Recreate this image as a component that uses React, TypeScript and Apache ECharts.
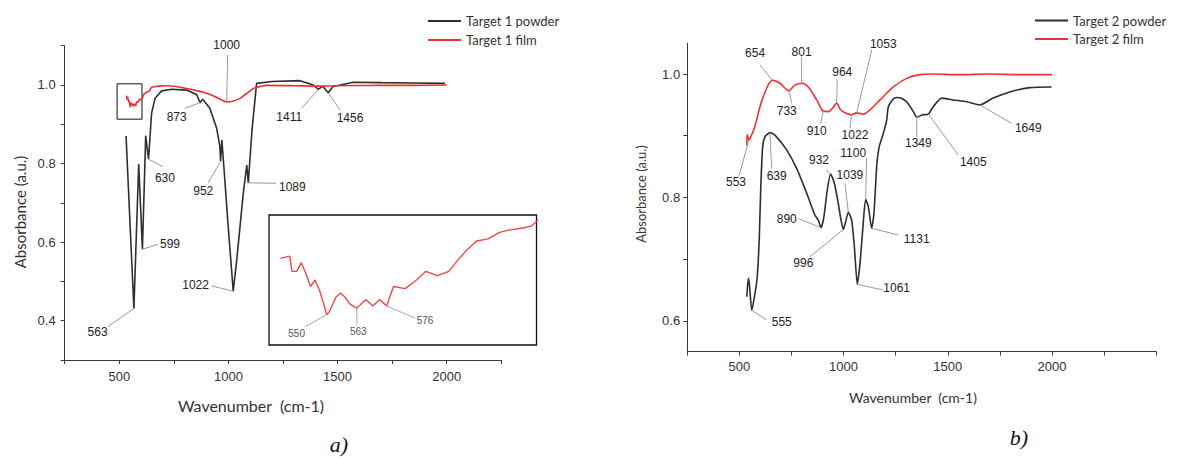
import React, { useEffect, useRef } from "react";
import * as echarts from "echarts";

// ---------------- data ----------------
// a) Target 1
const T1_POWDER_WN = [531, 567, 589, 606, 621, 634, 648, 664, 694, 740, 809, 855, 870, 882, 915, 946, 961, 964, 970, 978, 999, 1022, 1038, 1068, 1084, 1091, 1108, 1129, 1200, 1328, 1389, 1412, 1432, 1457, 1480, 1572, 1700, 1850, 1992];
const T1_POWDER_ABS = [0.870, 0.431, 0.799, 0.582, 0.871, 0.811, 0.928, 0.966, 0.985, 0.989, 0.987, 0.975, 0.955, 0.964, 0.941, 0.890, 0.843, 0.806, 0.860, 0.800, 0.639, 0.475, 0.554, 0.724, 0.796, 0.751, 0.885, 1.004, 1.009, 1.011, 1.000, 0.989, 0.997, 0.980, 0.996, 1.007, 1.006, 1.005, 1.004];
const T1_FILM_WN = [530, 534, 535, 537, 539, 541, 543, 545, 547, 549, 550, 551, 554, 556, 558, 560, 563, 567, 570, 573, 576, 579, 584, 589, 593, 598, 603, 606, 610, 615, 620, 625, 629, 635, 639, 648, 680, 717, 760, 809, 860, 900, 940, 970, 992, 1015, 1053, 1085, 1114, 1150, 1175, 1300, 1400, 1500, 1700, 1850, 2000];
const T1_FILM_ABS = [0.970, 0.971, 0.964, 0.964, 0.968, 0.963, 0.957, 0.960, 0.955, 0.948, 0.944, 0.945, 0.952, 0.954, 0.952, 0.949, 0.947, 0.951, 0.948, 0.951, 0.948, 0.957, 0.956, 0.960, 0.964, 0.962, 0.964, 0.968, 0.973, 0.978, 0.979, 0.982, 0.983, 0.984, 0.985, 0.994, 0.997, 0.998, 0.996, 0.991, 0.985, 0.979, 0.970, 0.962, 0.957, 0.958, 0.966, 0.979, 0.991, 0.997, 0.999, 0.998, 0.997, 0.998, 0.999, 0.999, 1.000];

// b) Target 2
const T2_POWDER_WN = [536, 543, 548, 560, 575, 586, 596, 603, 612, 623, 647, 671, 727, 775, 823, 863, 879, 892, 906, 922, 938, 956, 975, 988, 999, 1012, 1023, 1039, 1052, 1066, 1079, 1092, 1106, 1119, 1135, 1146, 1159, 1171, 1191, 1207, 1215, 1240, 1260, 1275, 1303, 1335, 1351, 1380, 1407, 1430, 1471, 1526, 1591, 1654, 1718, 1798, 1894, 1998];
const T2_POWDER_ABS = [0.639, 0.669, 0.660, 0.617, 0.644, 0.671, 0.736, 0.817, 0.882, 0.898, 0.905, 0.901, 0.877, 0.847, 0.807, 0.771, 0.763, 0.751, 0.769, 0.812, 0.838, 0.823, 0.790, 0.763, 0.748, 0.763, 0.776, 0.763, 0.720, 0.659, 0.693, 0.747, 0.797, 0.785, 0.750, 0.774, 0.850, 0.882, 0.904, 0.925, 0.947, 0.960, 0.962, 0.961, 0.955, 0.939, 0.930, 0.934, 0.935, 0.947, 0.961, 0.958, 0.955, 0.950, 0.961, 0.971, 0.978, 0.979];
const T2_FILM_WN = [536, 538, 546, 553, 575, 599, 631, 658, 695, 738, 767, 799, 831, 871, 903, 927, 951, 967, 986, 1015, 1039, 1063, 1095, 1127, 1175, 1239, 1303, 1367, 1430, 1550, 1700, 1850, 2000];
const T2_FILM_ABS = [0.884, 0.902, 0.893, 0.897, 0.915, 0.947, 0.977, 0.990, 0.985, 0.973, 0.982, 0.985, 0.979, 0.958, 0.940, 0.939, 0.946, 0.953, 0.942, 0.936, 0.934, 0.937, 0.935, 0.942, 0.958, 0.979, 0.993, 0.999, 1.000, 0.999, 1.000, 0.999, 0.999];

// axes
const X_TICKS_A = [250, 500, 750, 1000, 1250, 1500, 1750, 2000, 2250];
const X_TICKS_B = [250, 500, 750, 1000, 1250, 1500, 1750, 2000, 2250, 2500];
const X_LABELS = [500, 1000, 1500, 2000];
const Y_TICKS_A = [0.3, 0.4, 0.5, 0.6, 0.7, 0.8, 0.9, 1.0, 1.1];
const Y_LABELS_A = [0.4, 0.6, 0.8, 1.0];
const Y_TICKS_B = [0.6, 0.7, 0.8, 0.9, 1.0];
const Y_LABELS_B = [0.6, 0.8, 1.0];

// peak annotations: [wavenumber, absorbance, label]
const PEAKS_A: [number, number, string][] = [
  [992, 0.957, "1000"], [870, 0.955, "873"], [1412, 0.989, "1411"], [1457, 0.980, "1456"],
  [634, 0.811, "630"], [964, 0.806, "952"], [1091, 0.751, "1089"], [606, 0.582, "599"],
  [1022, 0.475, "1022"], [567, 0.431, "563"],
];
const PEAKS_INSET: [number, number, string][] = [
  [550, 0.944, "550"], [563, 0.947, "563"], [576, 0.948, "576"],
];
const PEAKS_B: [number, number, string][] = [
  [658, 0.990, "654"], [799, 0.985, "801"], [738, 0.973, "733"], [967, 0.953, "964"],
  [1063, 0.937, "1053"], [903, 0.940, "910"], [1039, 0.934, "1022"], [546, 0.893, "553"],
  [647, 0.905, "639"], [938, 0.838, "932"], [1106, 0.797, "1100"], [1023, 0.776, "1039"],
  [892, 0.751, "890"], [999, 0.748, "996"], [1135, 0.750, "1131"], [1066, 0.659, "1061"],
  [560, 0.617, "555"], [1351, 0.930, "1349"], [1407, 0.935, "1405"], [1654, 0.950, "1649"],
];
const ZOOM_BOX: [number, number][] = [[490, 1.003], [604, 0.913]];

// ---------------- layout (label offsets: lineDx, lineDy, textDx, textDy, align) ----------------
type L = [number, number, number, number, string];
const LAYOUT_A: L[] = [
  [1, -46.9, 0, -56.9, "center"], [-15.1, 5.6, -23.4, 14, "center"], [-16.7, 19, -29.1, 28, "center"],
  [11.8, 17.1, 21.8, 25.4, "center"], [14.1, 7.4, 16.4, 19, "center"], [-12.3, 21.5, -17.3, 29.5, "center"],
  [27.7, 0.5, 30.7, 3.9, "left"], [15.6, -4.9, 17.6, -4.9, "left"], [-21.5, -5.3, -24.3, -6.3, "right"],
  [-26.2, 18.1, -36.3, 23.1, "center"],
];
const LAYOUT_INSET: L[] = [
  [-21.7, 12.3, -30, 19.3, "center"], [0.4, 16.8, 1.7, 23.5, "center"], [28.4, 12, 38.4, 14.7, "center"],
];
const LAYOUT_B: L[] = [
  [-12.2, -15.2, -17.2, -26.9, "center"], [0, -26.3, 0, -31.6, "center"], [2.8, 12.6, -2.2, 20.3, "center"],
  [0.6, -23, 5.6, -31.3, "center"], [15, -62.9, 26.6, -68.9, "center"], [-2.6, 12.3, -6.6, 19.7, "center"],
  [-1.7, 13.3, 3.3, 20.3, "center"], [-9.6, 35, -12.9, 41.7, "center"], [1.7, 35.7, 6.7, 43.4, "center"],
  [-4.6, -3.9, -11.6, -13.9, "center"], [1, -40.9, -12.4, -45.9, "center"], [-3.4, -28.8, 1.6, -37.1, "center"],
  [-22, -8.6, -34.3, -8.6, "center"], [-33.3, 27.3, -40, 33.9, "center"], [26.6, 6.8, 45, 10.8, "center"],
  [26, 5.7, 39.4, 3.4, "center"], [14.9, 9.8, 29.9, 11.5, "center"], [0, 19.5, 1.6, 26.1, "center"],
  [29.9, 40.9, 44.9, 47.6, "center"], [31.8, 18.5, 48.4, 22.9, "center"],
];

const FONT_TICK = '"Liberation Sans", Arial, sans-serif';
const FONT_NAME = 'Lato, "Open Sans", sans-serif';
const AXIS_COLOR = "#3a3a3a";
const BLACK = "#2e2e2e";
const RED = "#ee3030";

const zip = (xs: number[], ys: number[]) => xs.map((x, i) => [x, ys[i]]);

function axis(gridIndex: number, min: number, max: number, ticks: number[], labels: number[], fmt: (v: number) => string, margin: number) {
  return {
    type: "value",
    gridIndex,
    min,
    max,
    axisLine: { show: true, onZero: false, lineStyle: { color: AXIS_COLOR, width: 1 } },
    axisTick: { show: true, length: 4, inside: false, customValues: ticks, lineStyle: { color: AXIS_COLOR, width: 1 } },
    axisLabel: { show: true, customValues: labels, formatter: fmt, color: "#333", fontSize: 13, fontFamily: FONT_TICK, margin },
    splitLine: { show: false },
  };
}

function hiddenAxis(gridIndex: number, min: number, max: number) {
  return { type: "value", gridIndex, min, max, show: false, splitLine: { show: false } };
}

function buildOption() {
  return {
    animation: false,
    backgroundColor: "#ffffff",
    grid: [
      { left: 64.7, top: 45.7, width: 436.6, height: 314.3 },
      { left: 269, top: 215, width: 267.5, height: 130, show: true, backgroundColor: "#ffffff", borderColor: "#111", borderWidth: 1.3 },
      { left: 687.2, top: 43.2, width: 469, height: 308.4 },
    ],
    xAxis: [
      axis(0, 250, 2250, X_TICKS_A, X_LABELS, (v: number) => String(v), 10),
      hiddenAxis(1, 525, 641),
      axis(2, 250, 2500, X_TICKS_B, X_LABELS, (v: number) => String(v), 8),
    ],
    yAxis: [
      axis(0, 0.3, 1.1, Y_TICKS_A, Y_LABELS_A, (v: number) => v.toFixed(1), 9),
      hiddenAxis(1, 0.93, 0.99),
      axis(2, 0.55, 1.05, Y_TICKS_B, Y_LABELS_B, (v: number) => v.toFixed(1), 7),
    ],
    legend: [
      {
        data: ["Target 1 powder", "Target 1 film"], left: 428, top: 13.5, orient: "vertical", icon: "rect",
        itemWidth: 33, itemHeight: 2, itemGap: 4, padding: 0,
        textStyle: { fontFamily: FONT_NAME, fontSize: 13, color: "#333", lineHeight: 15 },
      },
      {
        data: ["Target 2 powder", "Target 2 film"], left: 1035, top: 13, orient: "vertical", icon: "rect",
        itemWidth: 33, itemHeight: 2, itemGap: 3.5, padding: 0,
        textStyle: { fontFamily: FONT_NAME, fontSize: 13, color: "#333", lineHeight: 15 },
      },
    ],
    series: [
      {
        name: "Target 1 powder", type: "line", xAxisIndex: 0, yAxisIndex: 0, data: zip(T1_POWDER_WN, T1_POWDER_ABS),
        showSymbol: false, symbol: "none", color: BLACK, lineStyle: { color: BLACK, width: 1.6 }, smooth: false, z: 3,
      },
      {
        name: "Target 1 film", type: "line", xAxisIndex: 0, yAxisIndex: 0, data: zip(T1_FILM_WN, T1_FILM_ABS),
        showSymbol: false, symbol: "none", color: RED, lineStyle: { color: RED, width: 1.6 }, smooth: 0.25, z: 4,
        markArea: {
          silent: true,
          itemStyle: { color: "rgba(0,0,0,0)", borderColor: "#111", borderWidth: 1 },
          data: [[{ coord: ZOOM_BOX[0] }, { coord: ZOOM_BOX[1] }]],
        },
      },
      {
        name: "Target 1 film (detail)", type: "line", xAxisIndex: 1, yAxisIndex: 1, data: zip(T1_FILM_WN, T1_FILM_ABS),
        showSymbol: false, symbol: "none", color: RED, lineStyle: { color: "#f04848", width: 1.4 }, smooth: false, clip: true, z: 5,
      },
      {
        name: "Target 2 powder", type: "line", xAxisIndex: 2, yAxisIndex: 2, data: zip(T2_POWDER_WN, T2_POWDER_ABS),
        showSymbol: false, symbol: "none", color: BLACK, lineStyle: { color: BLACK, width: 1.6 }, smooth: 0.2, z: 3,
      },
      {
        name: "Target 2 film", type: "line", xAxisIndex: 2, yAxisIndex: 2, data: zip(T2_FILM_WN, T2_FILM_ABS),
        showSymbol: false, symbol: "none", color: RED, lineStyle: { color: RED, width: 1.6 }, smooth: 0.3, z: 4,
      },
    ],
  };
}

function text(x: number, y: number, str: string, font: string, align: string, fill: string, extra: any = {}) {
  return {
    type: "text", x, y, silent: true, z: 60, ...extra,
    style: { text: str, font, fill, align, verticalAlign: "middle", textAlign: align, textVerticalAlign: "middle" },
  };
}

function annots(chart: any, idx: number, peaks: [number, number, string][], layout: L[], fontSize: number, fill: string, stroke: string) {
  const out: any[] = [];
  peaks.forEach(([wn, ab, label], i) => {
    const p = chart.convertToPixel({ xAxisIndex: idx, yAxisIndex: idx }, [wn, ab]);
    if (!p) return;
    const [ldx, ldy, tdx, tdy, align] = layout[i];
    out.push({
      type: "line", silent: true, z: 55,
      shape: { x1: p[0], y1: p[1], x2: p[0] + ldx, y2: p[1] + ldy },
      style: { stroke, lineWidth: 1 },
    });
    out.push(text(p[0] + tdx, p[1] + tdy, label, `${fontSize}px ${FONT_TICK}`, align, fill));
  });
  return out;
}

function buildGraphic(chart: any) {
  const els: any[] = [];
  els.push(...annots(chart, 0, PEAKS_A, LAYOUT_A, 12, "#222", "#9a9a9a"));
  els.push(...annots(chart, 1, PEAKS_INSET, LAYOUT_INSET, 10, "#555", "#a8a8a8"));
  els.push(...annots(chart, 2, PEAKS_B, LAYOUT_B, 12, "#222", "#9a9a9a"));
  // axis titles
  els.push(text(251, 405, "Wavenumber  (cm-1)", `16px ${FONT_NAME}`, "center", "#333"));
  els.push(text(20, 212, "Absorbance (a.u.)", `15px ${FONT_NAME}`, "center", "#333", { rotation: Math.PI / 2 }));
  els.push(text(913, 397, "Wavenumber  (cm-1)", `14px ${FONT_NAME}`, "center", "#333"));
  els.push(text(641, 194, "Absorbance (a.u.)", `13px ${FONT_NAME}`, "center", "#333", { rotation: Math.PI / 2 }));
  // panel captions
  els.push(text(339, 444, "a)", `italic 22px "Liberation Serif", "DejaVu Serif", serif`, "center", "#111"));
  els.push(text(1019, 437, "b)", `italic 22px "Liberation Serif", "DejaVu Serif", serif`, "center", "#111"));
  return els;
}

export default function App() {
  const ref = useRef<HTMLDivElement>(null);
  useEffect(() => {
    if (!ref.current) return;
    const chart = echarts.init(ref.current, undefined, { renderer: "svg" });
    chart.setOption(buildOption() as any);
    chart.setOption({ graphic: { elements: buildGraphic(chart) } } as any);
    return () => chart.dispose();
  }, []);
  return (
    <div
      ref={ref}
      style={{ position: "fixed", left: 0, top: 0, width: 1178, height: 458, background: "#ffffff" }}
    />
  );
}
